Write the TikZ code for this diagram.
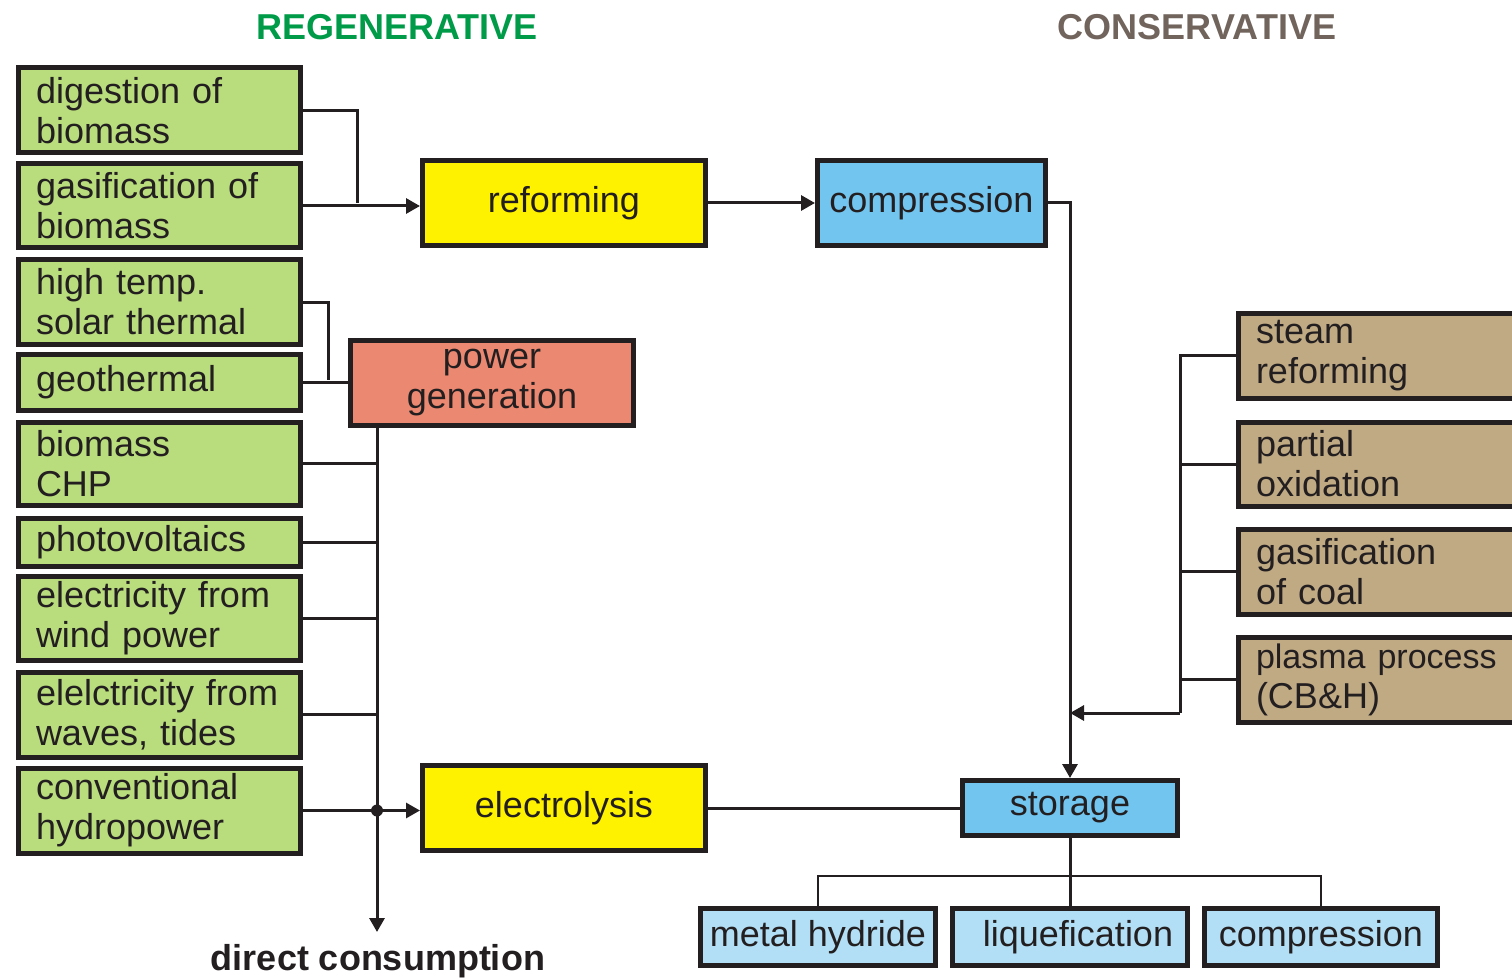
\documentclass[tikz,border=0pt]{standalone}
\usepackage{fontspec}
\setmainfont{Liberation Sans}
\usetikzlibrary{arrows.meta}
\definecolor{cgreen}{RGB}{185,220,125}
\definecolor{cyellow}{RGB}{255,242,0}
\definecolor{cblue}{RGB}{114,197,239}
\definecolor{csalmon}{RGB}{235,136,113}
\definecolor{clblue}{RGB}{178,223,245}
\definecolor{ctan}{RGB}{192,170,132}
\definecolor{cline}{RGB}{35,31,32}
\definecolor{hgreen}{RGB}{0,155,72}
\definecolor{hgray}{RGB}{112,100,92}
\tikzset{
  bx/.style={draw=cline, line width=2.5pt, font=\fontsize{18}{20}\selectfont, text=cline},
  lbox/.style={bx, fill=cgreen, anchor=north west, inner xsep=9pt, inner ysep=0pt, text width=123pt, align=left},
  tbox/.style={bx, fill=ctan, anchor=north west, inner xsep=9pt, inner ysep=0pt, text width=132pt, align=left, minimum height=42.5pt},
  cbox/.style={bx, anchor=center, inner sep=2pt, align=center},
  conn/.style={draw=cline, line width=1.5pt},
  thin/.style={draw=cline, line width=1.1pt},
  arr/.style={conn, -{Triangle[length=7pt,width=7.5pt]}},
  head/.style={font=\bfseries\fontsize{18}{20}\selectfont}
}
\begin{document}
\begin{tikzpicture}[x=0.5pt,y=-0.5pt]
\useasboundingbox (0,0) rectangle (1512,979);
% headings
\node[head, text=hgreen] (hreg) at (397,27) {REGENERATIVE};
\node[head, text=hgray] (hcon) at (1197,27) {CONSERVATIVE};
% left column
\node[lbox, minimum height=42.5pt] (dig) at (15.5,65.5) {digestion of\\biomass};
\node[lbox, minimum height=42pt] (gas) at (15.5,161.5) {gasification of\\biomass};
\node[lbox, minimum height=42pt] (ht) at (15.5,257.5) {high temp.\\solar thermal};
\node[lbox, minimum height=28pt] (geo) at (15.5,351.5) {geothermal};
\node[lbox, minimum height=41.5pt] (chp) at (15.5,419.5) {biomass\\CHP};
\node[lbox, minimum height=24pt] (pv) at (15.5,515.5) {photovoltaics};
\node[lbox, minimum height=42pt] (wind) at (15.5,573.5) {electricity from\\wind power};
\node[lbox, minimum height=42.5pt] (wav) at (15.5,669.5) {elelctricity from\\waves, tides};
\node[lbox, minimum height=42.5pt] (hyd) at (15.5,765.5) {conventional\\hydropower};
% center boxes
\node[cbox, fill=cyellow, minimum width=141.5pt, minimum height=42.5pt] (ref) at (564,203) {reforming};
\node[cbox, fill=cblue, minimum width=114pt, minimum height=42.5pt] (cmp) at (931.5,203) {compression};
\node[cbox, fill=csalmon, minimum width=141.5pt, minimum height=42.5pt] (pow) at (492,383) {power\\generation};
\node[cbox, fill=cyellow, minimum width=141.5pt, minimum height=42.5pt] (ely) at (564,808) {electrolysis};
\node[cbox, fill=cblue, minimum width=107.5pt, minimum height=27.5pt] (sto) at (1070,808) {storage};
\node[cbox, fill=clblue, minimum width=117.5pt, minimum height=28.5pt] (met) at (818,937) {metal hydride};
\node[cbox, fill=clblue, minimum width=117.5pt, minimum height=28.5pt] (liq) at (1070,937) {\hspace{8pt}liquefication};
\node[cbox, fill=clblue, minimum width=116.5pt, minimum height=28.5pt] (cp2) at (1321,937) {compression};
% right column
\node[tbox] (stm) at (1235.5,310.5) {steam\\reforming};
\node[tbox, minimum height=42pt] (pox) at (1235.5,419.5) {partial\\oxidation};
\node[tbox] (gco) at (1235.5,526.5) {gasification\\of coal};
\node[tbox] (pla) at (1235.5,634.5) {{\fontsize{17}{20}\selectfont plasma process}\\(CB\&H)};
% direct consumption
\node[head, text=cline] (dcl) at (378,961) {direct consumption};
% coordinates
\coordinate (j1) at (357,203);
\coordinate (j2) at (328,380);
\coordinate (dc) at (377,932);
\coordinate (bj) at (1180,713);
\coordinate (sbar) at (1070,876);
% connectors
\draw[conn] (dig.east) -| (j1);
\draw[arr] (gas.east) -- (gas.east -| ref.west);
\draw[arr] (ref.east) -- (cmp.west);
\draw[arr] (cmp.east) -| (sto.north);
\draw[conn] (ht.east) -| (j2);
\draw[conn] (geo.east) -- (pow.west |- geo.east);
\draw[arr] (pow.south -| dc) -- (dc);
\draw[conn] (chp.east) -- (chp.east -| dc);
\draw[conn] (pv.east) -- (pv.east -| dc);
\draw[conn] (wind.east) -- (wind.east -| dc);
\draw[conn] (wav.east) -- (wav.east -| dc);
\draw[arr] (hyd.east) -- (ely.west |- hyd.east);
\fill[cline] (hyd.east -| dc) circle (6);
\draw[conn] (ely.east) -- (sto.west);
\draw[conn] (stm.west) -| (bj);
\draw[conn] (pox.west) -- (pox.west -| bj);
\draw[conn] (gco.west) -- (gco.west -| bj);
\draw[conn] (pla.west) -- (pla.west -| bj);
\draw[arr] (bj) -- (bj -| sto.north);
\draw[conn] (sto.south) -- (liq.north);
\draw[thin] (met.north) |- (sbar) -| (cp2.north);
\end{tikzpicture}
\end{document}
